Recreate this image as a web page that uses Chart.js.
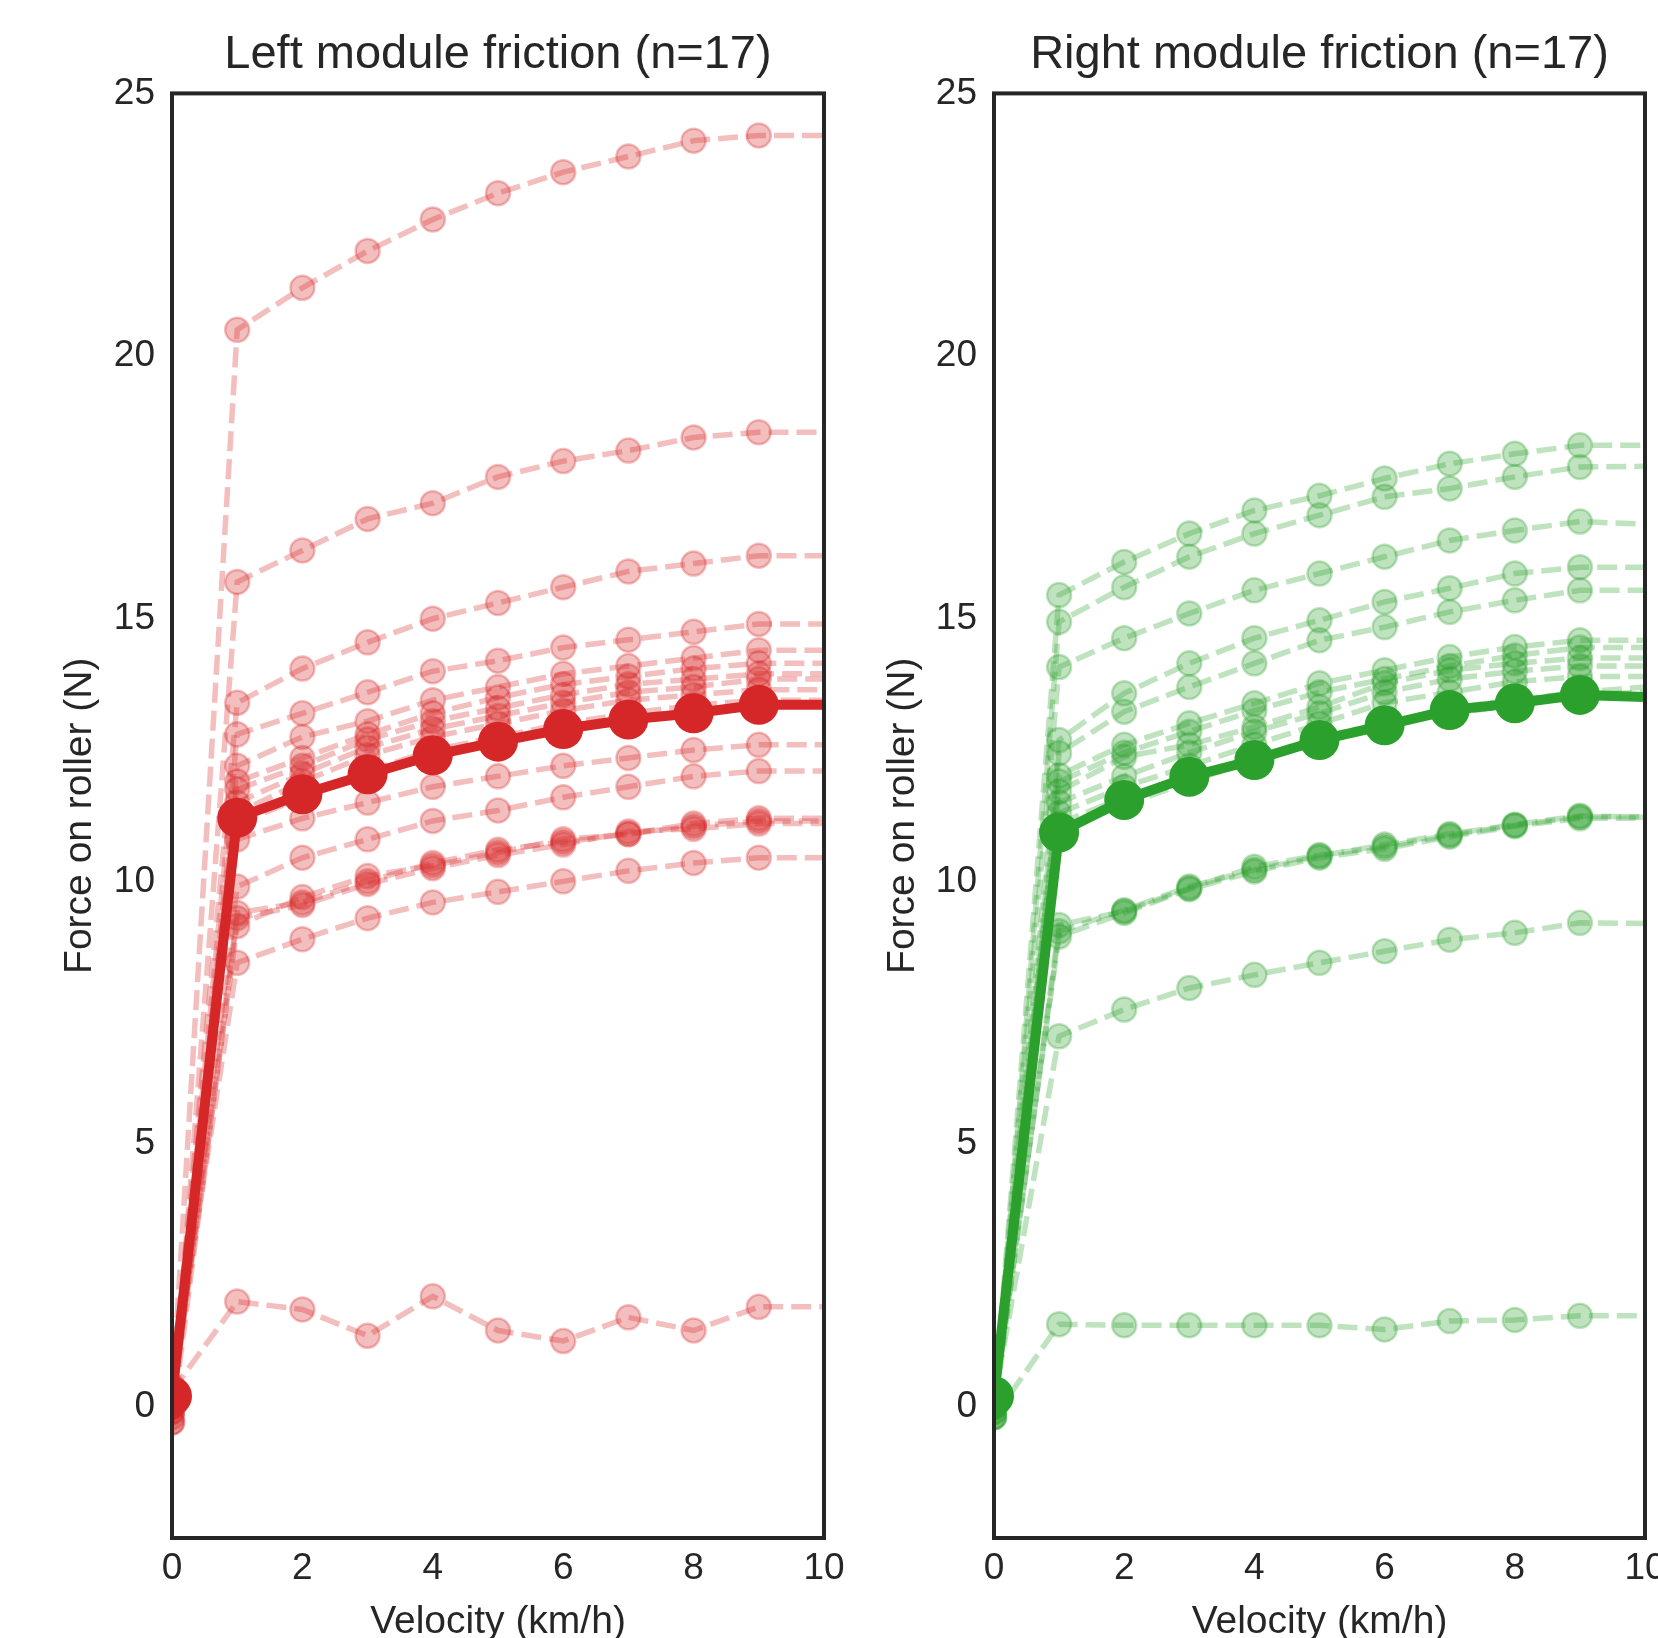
<!DOCTYPE html>
<html>
<head>
<meta charset="utf-8">
<script src="https://cdn.jsdelivr.net/npm/chart.js@4.4.0/dist/chart.umd.min.js"></script>
<style>
    html, body { margin: 0; padding: 0; background: #fff; overflow: hidden; width: 1658px; height: 1638px; }
    .panel { position: absolute; top: 0; }
    #left  { left: 0; }
    #right { left: 830px; }
</style>
</head>
<body>
<div class="panel" id="left"><canvas id="ch-left" width="880" height="1660"></canvas></div>
<div class="panel" id="right"><canvas id="ch-right" width="900" height="1660"></canvas></div>

<script>
// ── Datos ─────────────────────────────────────────────────────────────────
const velocity = [0, 1, 2, 3, 4, 5, 6, 7, 8, 9, 10];
const xTicks   = [0, 2, 4, 6, 8, 10];
const yTicks   = [0, 5, 10, 15, 20, 25];

const leftRuns = [
    [ 0.1, 20.5, 21.3, 22.0, 22.6, 23.1, 23.5, 23.8, 24.1, 24.2, 24.2],
    [-0.3, 15.7, 16.3, 16.9, 17.2, 17.7, 18.0, 18.2, 18.45, 18.55, 18.55],
    [ 0.2, 13.4, 14.05, 14.55, 15.0, 15.3, 15.6, 15.9, 16.05, 16.2, 16.2],
    [ 0.0, 12.8, 13.2, 13.6, 14.0, 14.2, 14.45, 14.6, 14.75, 14.9, 14.9],
    [-0.1, 12.2, 12.75, 13.05, 13.45, 13.7, 13.95, 14.1, 14.25, 14.4, 14.4],
    [ 0.3, 11.9, 12.35, 12.8, 13.2, 13.5, 13.75, 13.9, 14.05, 14.15, 14.15],
    [ 0.1, 11.75, 12.2, 12.7, 13.05, 13.3, 13.55, 13.75, 13.85, 13.95, 13.95],
    [-0.2, 11.5, 12.05, 12.55, 12.9, 13.15, 13.4, 13.6, 13.7, 13.85, 13.85],
    [ 0.0, 11.3, 11.9, 12.4, 12.75, 13.0, 13.25, 13.45, 13.55, 13.65, 13.65],
    [ 0.0, 11.1, 11.6, 12.1, 12.5, 12.75, 13.0, 13.2, 13.35, 13.45, 13.45],
    [ 0.2, 10.8, 11.2, 11.5, 11.8, 12.0, 12.2, 12.35, 12.5, 12.6, 12.6],
    [-0.1, 9.9, 10.45, 10.8, 11.15, 11.35, 11.6, 11.8, 12.0, 12.1, 12.1],
    [ 0.1, 9.4, 9.6, 10.0, 10.35, 10.6, 10.75, 10.9, 11.05, 11.15, 11.15],
    [ 0.0, 9.15, 9.7, 10.1, 10.3, 10.55, 10.8, 10.9, 11.1, 11.2, 11.2],
    [-0.3, 9.3, 9.55, 9.95, 10.25, 10.5, 10.7, 10.95, 11.0, 11.1, 11.1],
    [ 0.4, 8.45, 8.9, 9.3, 9.6, 9.8, 10.0, 10.2, 10.35, 10.45, 10.45],
    [ 0.3, 2.0, 1.85, 1.35, 2.1, 1.45, 1.25, 1.7, 1.45, 1.9, 1.9],
];
const leftMean = [0.2, 11.21, 11.66, 12.04, 12.40, 12.66, 12.90, 13.08, 13.20, 13.36, 13.36];

const rightRuns = [
    [ 0.0, 15.45, 16.08, 16.62, 17.06, 17.34, 17.67, 17.95, 18.14, 18.3, 18.3],
    [-0.2, 14.94, 15.6, 16.18, 16.62, 16.97, 17.32, 17.48, 17.7, 17.89, 17.9],
    [ 0.1, 14.08, 14.63, 15.1, 15.54, 15.86, 16.18, 16.49, 16.68, 16.85, 16.8],
    [ 0.2, 12.69, 13.58, 14.15, 14.63, 14.97, 15.32, 15.58, 15.86, 15.98, 15.98],
    [-0.1, 12.44, 13.23, 13.7, 14.15, 14.59, 14.84, 15.13, 15.35, 15.54, 15.54],
    [ 0.0, 12.02, 12.6, 13.01, 13.39, 13.77, 14.02, 14.27, 14.46, 14.59, 14.59],
    [ 0.3, 11.9, 12.45, 12.85, 13.25, 13.6, 13.85, 14.1, 14.3, 14.45, 14.45],
    [ 0.1, 11.71, 12.37, 12.6, 12.94, 13.32, 13.77, 14.02, 14.15, 14.25, 14.25],
    [-0.2, 11.5, 12.0, 12.45, 12.85, 13.2, 13.6, 13.85, 14.0, 14.1, 14.1],
    [ 0.2, 11.3, 11.8, 12.2, 12.6, 13.0, 13.4, 13.6, 13.8, 13.9, 13.9],
    [ 0.0, 11.1, 11.6, 12.0, 12.35, 12.75, 13.0, 13.3, 13.45, 13.6, 13.7],
    [ 0.1, 11.0, 11.45, 11.9, 12.3, 12.65, 12.95, 13.2, 13.35, 13.55, 13.6],
    [-0.1, 9.17, 9.43, 9.87, 10.28, 10.5, 10.66, 10.88, 11.07, 11.23, 11.23],
    [ 0.2, 8.95, 9.4, 9.85, 10.19, 10.45, 10.62, 10.85, 11.05, 11.2, 11.2],
    [ 0.0, 9.05, 9.45, 9.9, 10.22, 10.48, 10.7, 10.9, 11.08, 11.25, 11.22],
    [ 0.1, 7.05, 7.56, 7.97, 8.22, 8.45, 8.67, 8.89, 9.02, 9.21, 9.2],
    [-0.2, 1.57, 1.55, 1.55, 1.55, 1.55, 1.47, 1.63, 1.65, 1.73, 1.73],
];
const rightMean = [0.2, 10.93, 11.55, 11.99, 12.31, 12.69, 12.97, 13.26, 13.39, 13.55, 13.51];

// ── Estilo ────────────────────────────────────────────────────────────────
const INK  = '#262626';
const FONT = '"Liberation Sans", Arial, sans-serif';
const RED   = [214, 39, 40];
const GREEN = [44, 160, 44];
const rgba = (c, a) => `rgba(${c[0]},${c[1]},${c[2]},${a})`;

// marco negro alrededor del area de dibujo
const framePlugin = {
    id: 'frame',
    afterDraw(chart) {
        const { ctx, chartArea: a } = chart;
        ctx.save();
        ctx.strokeStyle = INK;
        ctx.lineWidth = 4;
        ctx.strokeRect(a.left, a.top, a.right - a.left, a.bottom - a.top);
        ctx.restore();
    },
};

// el ultimo punto (x=10) solo prolonga la linea hasta el borde
const hideLast = r => ctx => (ctx.dataIndex === velocity.length - 1 ? 0 : r);

function buildPanel(id, title, runs, mean, col, yW, yTitlePad, padRight) {
    const runSets = runs.map(r => ({
        data: velocity.map((v, i) => ({ x: v, y: r[i] })),
        borderColor: rgba(col, 0.3),
        borderWidth: 5.5,
        borderDash: [20, 8],
        pointRadius: hideLast(12),
        pointBackgroundColor: rgba(col, 0.3),
        pointBorderColor: rgba(col, 0.3),
        pointBorderWidth: 2.5,
        clip: 0,
        order: 1,
    }));
    const meanSet = {
        data: velocity.map((v, i) => ({ x: v, y: mean[i] })),
        borderColor: rgba(col, 1),
        borderWidth: 10,
        pointRadius: hideLast(20),
        pointBackgroundColor: rgba(col, 1),
        pointBorderColor: rgba(col, 1),
        pointBorderWidth: 0,
        clip: 0,
        order: 0,
    };

    return new Chart(document.getElementById(id).getContext('2d'), {
        type: 'line',
        data: { datasets: [meanSet, ...runSets] },
        plugins: [framePlugin],
        options: {
            responsive: false, animation: false,
            layout: { padding: { left: 0, right: padRight, top: 0, bottom: 0 } },
            plugins: {
                legend: { display: false },
                tooltip: { enabled: false },
                title: {
                    display: true, text: title, fullSize: false, color: INK,
                    font: { family: FONT, size: 47, weight: 'normal' },
                    padding: { top: 27, bottom: 10 },
                },
            },
            scales: {
                x: {
                    type: 'linear', min: 0, max: 10,
                    grid: { display: false }, border: { display: false },
                    afterBuildTicks: s => { s.ticks = xTicks.map(v => ({ value: v })); },
                    afterFit: s => { s.height = 122; },
                    ticks: { color: INK, font: { family: FONT, size: 37 }, padding: 1 },
                    title: { display: true, text: 'Velocity (km/h)', color: INK,
                             font: { family: FONT, size: 39 }, padding: { top: 0, bottom: 14 } },
                },
                y: {
                    type: 'linear', min: -2.5, max: 25,
                    grid: { display: false }, border: { display: false },
                    afterBuildTicks: s => { s.ticks = yTicks.map(v => ({ value: v })); },
                    afterFit: s => { s.width = yW; },
                    ticks: { color: INK, font: { family: FONT, size: 37 }, padding: 9 },
                    title: { display: true, text: 'Force on roller (N)', color: INK,
                             font: { family: FONT, size: 39 }, padding: { top: yTitlePad, bottom: 0 } },
                },
            },
        },
    });
}

buildPanel('ch-left',  'Left module friction (n=17)',  leftRuns,  leftMean,  RED,   172, 57, 56);
buildPanel('ch-right', 'Right module friction (n=17)', rightRuns, rightMean, GREEN, 164, 50, 85);
</script>
</body>
</html>
